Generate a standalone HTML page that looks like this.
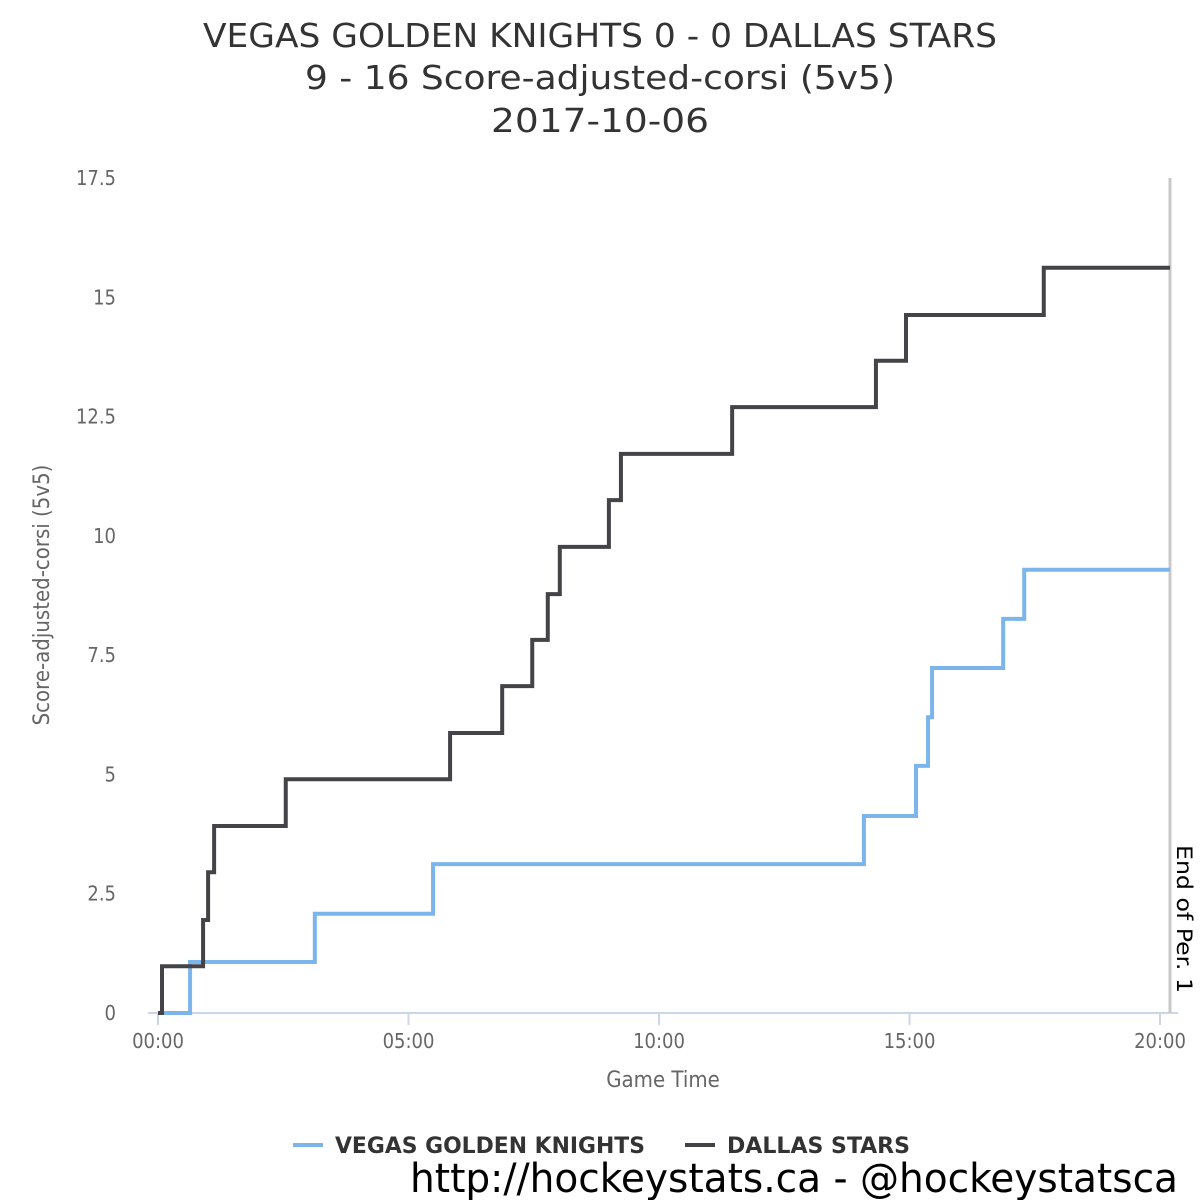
<!DOCTYPE html>
<html><head><meta charset="utf-8"><style>
body{margin:0;background:#fff}
svg{display:block;font-family:"DejaVu Sans Condensed","DejaVu Sans","Liberation Sans",sans-serif}
</style></head><body>
<svg id="chart" width="1200" height="1200" viewBox="0 0 1200 1200">
<rect width="1200" height="1200" fill="#fff"/>
<g fill="#333" font-size="33" text-anchor="middle">
<text x="600" y="47" textLength="794" lengthAdjust="spacingAndGlyphs">VEGAS GOLDEN KNIGHTS 0 - 0 DALLAS STARS</text>
<text x="600" y="89" textLength="590" lengthAdjust="spacingAndGlyphs">9 - 16 Score-adjusted-corsi (5v5)</text>
<text x="600" y="132" textLength="218" lengthAdjust="spacingAndGlyphs">2017-10-06</text>
</g>
<g id="yaxis"></g>
<g id="xaxis"></g>
<text transform="translate(49,595) rotate(-90)" text-anchor="middle" font-size="22" fill="#666">Score-adjusted-corsi (5v5)</text>
<text x="663" y="1087" text-anchor="middle" font-size="22" fill="#666">Game Time</text>
<line x1="1170" y1="178" x2="1170" y2="1013" stroke="#c8c8c8" stroke-width="3"/>
<text transform="translate(1177,845) rotate(90)" font-size="21" fill="#000" textLength="148" lengthAdjust="spacingAndGlyphs">End of Per. 1</text>
<g id="series"></g>
<g>
<g>
<line x1="293" y1="1145" x2="323" y2="1145" stroke="#7cb5ec" stroke-width="4"/>
<text x="335" y="1153" font-size="22" font-weight="bold" fill="#333" textLength="310" lengthAdjust="spacingAndGlyphs">VEGAS GOLDEN KNIGHTS</text>
</g>
<g>
<line x1="685" y1="1145" x2="715" y2="1145" stroke="#434348" stroke-width="4"/>
<text x="727" y="1153" font-size="22" font-weight="bold" fill="#333" textLength="183" lengthAdjust="spacingAndGlyphs">DALLAS STARS</text>
</g>
</g>
<text x="410" y="1192" font-size="40" fill="#000" textLength="768" lengthAdjust="spacingAndGlyphs">http://hockeystats.ca - @hockeystatsca</text>
</svg>
<script>
const yTicks=[0,2.5,5,7.5,10,12.5,15,17.5];
const yTickLabels=["0","2.5","5","7.5","10","12.5","15","17.5"];
const xTicks=[0,5,10,15,20];
const xTickLabels=["00:00","05:00","10:00","15:00","20:00"];
const vegasTimes=[0,0.64,3.13,5.49,14.09,15.13,15.37,15.45,16.87,17.29,20.2];
const vegasValues=[0,1.07,2.08,3.12,4.13,5.18,6.2,7.23,8.26,9.29,9.29];
const dallasTimes=[0,0.08,0.9,1.0,1.12,2.55,5.83,6.87,7.47,7.78,8.02,9.0,9.24,11.46,14.33,14.93,17.68,20.2];
const dallasValues=[0,0.98,1.95,2.95,3.92,4.9,5.87,6.85,7.82,8.78,9.77,10.75,11.72,12.7,13.67,14.63,15.62,15.62];
const NS="http://www.w3.org/2000/svg";
const X=t=>158+t*50.1;
const Y=v=>1013-v*47.71;
function mk(tag,attrs,parent){const e=document.createElementNS(NS,tag);for(const k in attrs)e.setAttribute(k,attrs[k]);parent.appendChild(e);return e;}
const ya=document.getElementById('yaxis');
yTicks.forEach((v,i)=>{const t=mk('text',{x:116,y:Y(v)+7,'text-anchor':'end','font-size':20,fill:'#666'},ya);


t.textContent=yTickLabels[i];});
const xa=document.getElementById('xaxis');
const al=mk('line',{x1:148,y1:1013,x2:1178,y2:1013,stroke:'#ccd6eb','stroke-width':2},xa);


xTicks.forEach((t,i)=>{const tk=mk('line',{x1:X(t),y1:1013,x2:X(t),y2:1025,stroke:'#ccd6eb','stroke-width':2},xa);


const lb=mk('text',{x:X(t),y:1048,'text-anchor':'middle','font-size':20,fill:'#666'},xa);


lb.textContent=xTickLabels[i];});
const sg=document.getElementById('series');
function step(ts,vs,color,name){let d='M'+X(ts[0])+','+Y(vs[0]);
for(let i=1;i<ts.length;i++){d+=' L'+X(ts[i])+','+Y(vs[i-1])+' L'+X(ts[i])+','+Y(vs[i]);}
const p=mk('path',{d:d,fill:'none',stroke:color,'stroke-width':4,'stroke-linejoin':'miter'},sg);

}
step(vegasTimes,vegasValues,'#7cb5ec','vegas-line');
step(dallasTimes,dallasValues,'#434348','dallas-line');
</script>
</body></html>
